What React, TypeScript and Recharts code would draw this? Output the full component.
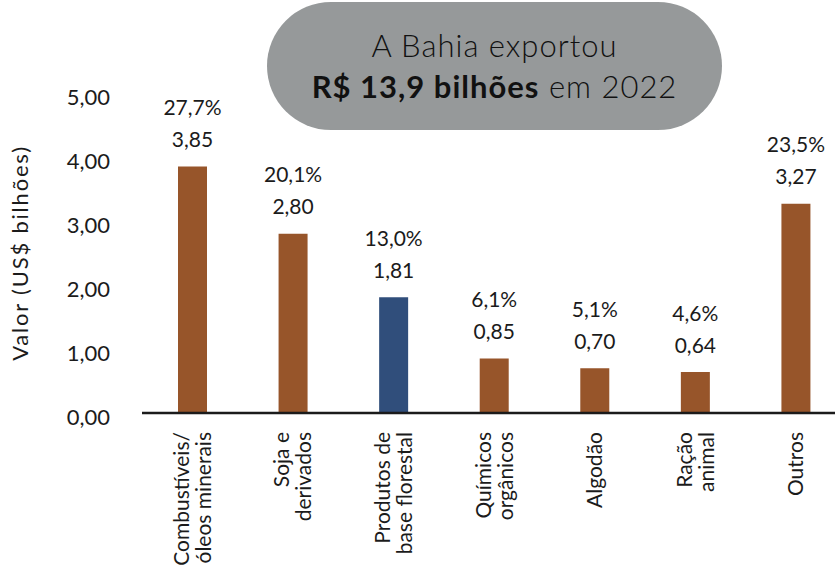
import React from "react";
import { BarChart, Bar, XAxis, YAxis, Cell, LabelList } from "recharts";

const categories = [
  "Combustíveis/\nóleos minerais",
  "Soja e\nderivados",
  "Produtos de\nbase florestal",
  "Químicos\norgânicos",
  "Algodão",
  "Ração\nanimal",
  "Outros",
];
const values = [3.85, 2.8, 1.81, 0.85, 0.7, 0.64, 3.27];
const shares = ["27,7%", "20,1%", "13,0%", "6,1%", "5,1%", "4,6%", "23,5%"];
const yTicks = [0, 1, 2, 3, 4, 5];
const highlighted = "Produtos de\nbase florestal";

const BROWN = "#97552A";
const BLUE = "#304E7B";
const TEXT = "#1b1b1b";
const FONT = "Lato, 'Open Sans', sans-serif";

const data = categories.map((c, i) => ({ name: c, value: values[i], share: shares[i] }));

const fmt = (v: number) => v.toFixed(2).replace(".", ",");

const CatTick = (props: any) => {
  const { x, y, payload } = props;
  const lines = String(payload.value).split("\n");
  return (
    <g>
      {lines.map((l: string, i: number) => {
        const lx = x - 1 + (i - (lines.length - 1) / 2) * 22;
        const ly = y + 19;
        return (
          <text
            key={i}
            x={lx}
            y={ly}
            transform={`rotate(-90 ${lx} ${ly})`}
            textAnchor="end"
            dominantBaseline="central"
            fontSize={21}
            fill={TEXT}
            fontFamily={FONT}
          >
            {l}
          </text>
        );
      })}
    </g>
  );
};

const ValTick = (props: any) => {
  const { x, y, payload } = props;
  return (
    <text
      x={x}
      y={y + 3}
      textAnchor="end"
      dominantBaseline="central"
      fontSize={22}
      fill={TEXT}
      fontFamily={FONT}
    >
      {fmt(Number(payload.value))}
    </text>
  );
};

const YLabel = (props: any) => {
  const vb = props.viewBox || { x: 0, y: 93, width: 142, height: 320 };
  const cx = vb.x + 19;
  const cy = vb.y + vb.height / 2;
  return (
    <text
      x={cx}
      y={cy}
      transform={`rotate(-90 ${cx} ${cy})`}
      textAnchor="middle"
      dominantBaseline="central"
      fontSize={22}
      letterSpacing={1.8}
      fill={TEXT}
      fontFamily={FONT}
    >
      Valor (US$ bilhões)
    </text>
  );
};

const TopLabel = (offset: number, formatter: (v: any) => string) => (props: any) => {
  const { x, y, width, value } = props;
  return (
    <text
      x={Number(x) + Number(width) / 2}
      y={Number(y) - offset}
      textAnchor="middle"
      dominantBaseline="central"
      fontSize={21}
      fill={TEXT}
      fontFamily={FONT}
    >
      {formatter(value)}
    </text>
  );
};

export default function App() {
  return (
    <div
      style={{
        position: "absolute",
        left: 0,
        top: 0,
        width: 835,
        height: 580,
        overflow: "hidden",
        background: "#fff",
        fontFamily: FONT,
      }}
    >
      <BarChart
        width={850}
        height={580}
        data={data}
        margin={{ top: 93, right: 4, bottom: 0, left: 0 }}
      >
        <YAxis
          domain={[0, 5]}
          ticks={yTicks}
          axisLine={false}
          tickLine={false}
          tickSize={0}
          tickMargin={32}
          width={142}
          tick={<ValTick />}
          label={{ content: YLabel }}
        />
        <XAxis
          dataKey="name"
          height={167}
          interval={0}
          tickLine={false}
          tickSize={0}
          tickMargin={0}
          axisLine={{ stroke: "#1b1b1b", strokeWidth: 2.5 }}
          tick={<CatTick />}
        />
        <Bar dataKey="value" barSize={29} isAnimationActive={false}>
          {data.map((d, i) => (
            <Cell key={i} fill={d.name === highlighted ? BLUE : BROWN} />
          ))}
          <LabelList dataKey="value" content={TopLabel(28, fmt)} />
          <LabelList dataKey="share" content={TopLabel(60, (v) => String(v))} />
        </Bar>
      </BarChart>
      <div
        style={{
          position: "absolute",
          left: 267,
          top: 2,
          width: 455,
          height: 128,
          borderRadius: 64,
          background: "#96999A",
          display: "flex",
          flexDirection: "column",
          alignItems: "center",
          justifyContent: "center",
          color: "#111",
          fontSize: 31,
          letterSpacing: 1,
          lineHeight: "41px",
          fontFamily: FONT,
        }}
      >
        <div style={{ fontWeight: 300 }}>A Bahia exportou</div>
        <div style={{ fontWeight: 300 }}>
          <span style={{ fontWeight: 700 }}>R$ 13,9 bilhões</span> em 2022
        </div>
      </div>
    </div>
  );
}
